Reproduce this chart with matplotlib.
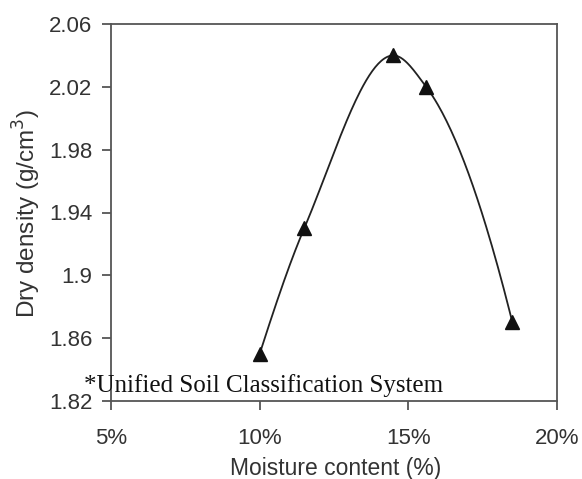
import numpy as np
import matplotlib
matplotlib.use("Agg")
import matplotlib.pyplot as plt
from matplotlib.ticker import FixedLocator, FixedFormatter

# Data
moisture = [10.0, 11.5, 14.5, 15.6, 18.5]      # %
dry_density = [1.85, 1.93, 2.04, 2.02, 1.87]   # g/cm3
x_ticks = [5, 10, 15, 20]
x_tick_labels = ["5%", "10%", "15%", "20%"]
y_ticks = [1.82, 1.86, 1.90, 1.94, 1.98, 2.02, 2.06]
y_tick_labels = ["1.82", "1.86", "1.9", "1.94", "1.98", "2.02", "2.06"]


def pchip_curve(xs, ys, n=60):
    """Shape-preserving cubic (PCHIP) smoothed line through the data points."""
    x = np.asarray(xs, float)
    y = np.asarray(ys, float)
    h = np.diff(x)
    d = np.diff(y) / h
    m = np.zeros_like(x)
    for k in range(1, len(x) - 1):
        if d[k - 1] * d[k] > 0:
            w1 = 2 * h[k] + h[k - 1]
            w2 = h[k] + 2 * h[k - 1]
            m[k] = (w1 + w2) / (w1 / d[k - 1] + w2 / d[k])
    def end(h0, h1, d0, d1):
        s = ((2 * h0 + h1) * d0 - h0 * d1) / (h0 + h1)
        if np.sign(s) != np.sign(d0):
            s = 0.0
        elif np.sign(d0) != np.sign(d1) and abs(s) > abs(3 * d0):
            s = 3 * d0
        return s
    m[0] = end(h[0], h[1], d[0], d[1])
    m[-1] = end(h[-1], h[-2], d[-1], d[-2])
    X, Y = [], []
    for k in range(len(x) - 1):
        t = np.linspace(0, 1, n)
        h00 = 2 * t**3 - 3 * t**2 + 1
        h10 = t**3 - 2 * t**2 + t
        h01 = -2 * t**3 + 3 * t**2
        h11 = t**3 - t**2
        X.append(x[k] + t * h[k])
        Y.append(h00 * y[k] + h10 * h[k] * m[k] + h01 * y[k + 1] + h11 * h[k] * m[k + 1])
    return np.concatenate(X), np.concatenate(Y)


plt.rcParams["font.family"] = ["Liberation Sans", "DejaVu Sans"]
fig = plt.figure(figsize=(5.82, 4.79), dpi=100)
ax = fig.add_axes([111 / 582, 1 - 401 / 479, (557 - 111) / 582, (401 - 24) / 479])

sx, sy = pchip_curve(moisture, dry_density)
ax.plot(sx, sy, color="#222222", lw=1.3, zorder=2)
ax.plot(moisture, dry_density, linestyle="none", marker="^", ms=9.5, color="#111111", zorder=3)

ax.set_xlim(5, 20)
ax.set_ylim(1.82, 2.06)
ax.xaxis.set_major_locator(FixedLocator(x_ticks))
ax.xaxis.set_major_formatter(FixedFormatter(x_tick_labels))
ax.yaxis.set_major_locator(FixedLocator(y_ticks))
ax.yaxis.set_major_formatter(FixedFormatter(y_tick_labels))

text_color = "#333333"
for s in ax.spines.values():
    s.set_color("#555555")
    s.set_linewidth(1.3)
ax.tick_params(axis="both", direction="out", length=6.5, width=1.3, color="#555555",
               labelsize=16, labelcolor=text_color)
ax.tick_params(axis="x", pad=13)
ax.tick_params(axis="y", pad=7)

fig.text(336 / 582, 1 - 468 / 479, "Moisture content (%)", ha="center", va="center",
         fontsize=16.5, color=text_color)
fig.text(27 / 582, 1 - 214 / 479, "Dry density (g/cm$^3$)", ha="center", va="center",
         rotation=90, fontsize=17.5, color=text_color)
fig.text(84 / 582, 1 - 392 / 479, "*Unified Soil Classification System", ha="left",
         va="baseline", fontsize=18, family=["Liberation Serif", "DejaVu Serif"], color="#111111")

fig.savefig("out.png", dpi=100)
